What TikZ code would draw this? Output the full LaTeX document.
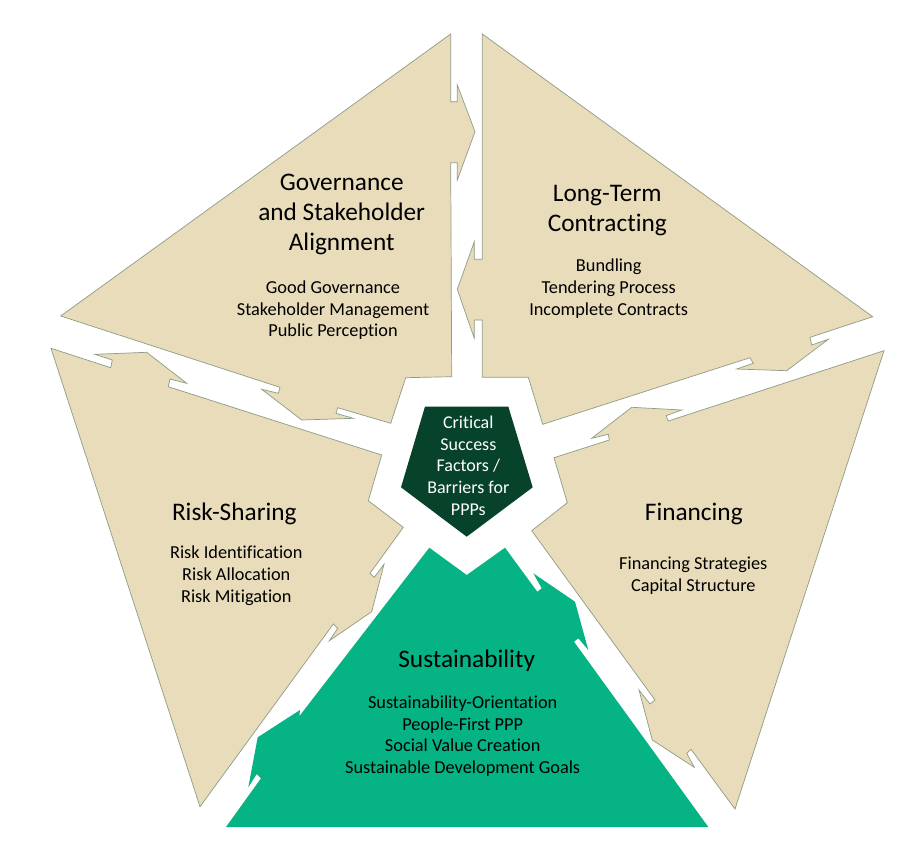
\documentclass[tikz,border=0pt]{standalone}
\usepackage{fontspec}
\setmainfont[Ligatures=NoCommon]{Carlito}
\definecolor{tanfill}{HTML}{E8DCBA}
\definecolor{tanline}{HTML}{8E9C86}
\definecolor{sgreen}{HTML}{05B384}
\definecolor{dgreen}{HTML}{07422A}
\tikzset{
  piece/.style={fill=tanfill, draw=tanline, line width=0.7pt, line join=miter},
  greenpiece/.style={fill=sgreen, draw=none},
  centerpiece/.style={fill=dgreen, draw=none},
  ttl/.style={anchor=base, inner sep=0pt, font=\fontsize{25.3}{30}\selectfont},
  itm/.style={anchor=base, inner sep=0pt, font=\fontsize{18.3}{22}\selectfont},
  ctr/.style={anchor=base, inner sep=0pt, text=white, font=\fontsize{18}{22}\selectfont}
}
\begin{document}
\begin{tikzpicture}[x=1pt,y=-1pt]
\useasboundingbox (0,0) rectangle (920,860);
\fill[white] (0,0) rectangle (920,860);

% Governance and Stakeholder Alignment
\draw[piece] (450.7,34) -- (450.7,101.7) -- (457.3,101.7) -- (457.3,85) -- (475,131.7)
  -- (457.3,180) -- (457.3,162.7) -- (450.7,162.7) -- (451.7,376.7) -- (405.7,377.7)
  -- (390.7,423.3) -- (337.7,407.7) -- (336,413.3) -- (353.3,418.3) -- (301.7,420)
  -- (261.7,389.3) -- (278.3,393.3) -- (280,387.3) -- (60.7,316) -- cycle;

% Long-Term Contracting
\draw[piece] (482.3,34) -- (872.7,316.7) -- (810,337.3) -- (811.7,345) -- (828.3,339.3)
  -- (786.7,370.7) -- (736.7,369) -- (753.3,363.3) -- (750,357.7) -- (542.7,424.3)
  -- (528.3,377.3) -- (482.3,377.3) -- (482.3,320) -- (474.3,320) -- (474.3,338.3)
  -- (457.3,289.3) -- (474.3,241.7) -- (474.3,259.3) -- (482.3,259.3) -- cycle;

% Financing
\draw[piece] (884,350.7) -- (735,809) -- (691,749.3) -- (686.7,753.3) -- (694.3,767.3)
  -- (652.3,740) -- (639,690) -- (650,704) -- (655,700) -- (531.7,530.7)
  -- (567.3,502.7) -- (554,457.7) -- (609.3,440) -- (608.3,434.3) -- (591.7,438.3)
  -- (631.7,407.3) -- (681.7,410) -- (666,415.7) -- (668.3,421) -- cycle;

% Risk-Sharing
\draw[piece] (51,348.3) -- (110.7,367.7) -- (112.3,360) -- (95,354.3) -- (146.7,352.3)
  -- (186.7,383.3) -- (170,379) -- (168.3,386.7) -- (381.7,455) -- (368.3,500.7)
  -- (403.3,527.3) -- (370,573.3) -- (374.3,577.3) -- (384,564.3) -- (371.7,611.7)
  -- (329.3,640.7) -- (337.7,628.3) -- (333.3,624) -- (200,806.7) -- cycle;

% Sustainability
\fill[greenpiece] (226,827) -- (261,778.3) -- (256.7,774) -- (248.3,787.3) -- (257.7,737.3)
  -- (300,710) -- (298.3,726.7) -- (293.3,724) -- (429.3,547.7) -- (466.7,575)
  -- (505,547.7) -- (537.3,591.7) -- (541.7,588.3) -- (533.3,573.3) -- (575,601.7)
  -- (588.3,650) -- (578.3,638.3) -- (574,641.7) -- (708.3,827) -- cycle;

% Center pentagon
\fill[centerpiece] (425,406.5) -- (508.3,406.5) -- (532.7,487.3) -- (466.7,536.7) -- (401,487.3) -- cycle;

% Texts: Governance
\node[ttl] (g1) at (341.7,190) {Governance};
\node[ttl] (g2) at (341.7,220) {and Stakeholder};
\node[ttl] (g3) at (341.7,250) {Alignment};
\node[itm] (g4) at (333,293.3) {Good Governance};
\node[itm] (g5) at (333,315) {Stakeholder Management};
\node[itm] (g6) at (333,336.7) {Public Perception};

% Long-Term
\node[ttl] (l1) at (607.3,201.7) {Long-Term};
\node[ttl] (l2) at (607.3,231.7) {Contracting};
\node[itm] (l3) at (608.7,271.7) {Bundling};
\node[itm] (l4) at (608.7,293.3) {Tendering Process};
\node[itm] (l5) at (608.7,315) {Incomplete Contracts};

% Risk-Sharing
\node[ttl] (r1) at (234.3,520.7) {Risk-Sharing};
\node[itm] (r2) at (236.3,558.3) {Risk Identification};
\node[itm] (r3) at (236.3,580.3) {Risk Allocation};
\node[itm] (r4) at (236.3,602) {Risk Mitigation};

% Financing
\node[ttl] (f1) at (693.8,520.7) {Financing};
\node[itm] (f2) at (693.3,569.3) {Financing Strategies};
\node[itm] (f3) at (693.3,591.3) {Capital Structure};

% Sustainability
\node[ttl] (s1) at (466.7,667.3) {Sustainability};
\node[itm] (s2) at (462.7,708.3) {Sustainability-Orientation};
\node[itm] (s3) at (462.7,730) {People-First PPP};
\node[itm] (s4) at (462.7,751.7) {Social Value Creation};
\node[itm] (s5) at (462.7,773.5) {Sustainable Development Goals};

% Center
\node[ctr] (c1) at (468.3,428) {Critical};
\node[ctr] (c2) at (468.3,450) {Success};
\node[ctr] (c3) at (468.3,471.7) {Factors /};
\node[ctr] (c4) at (468.3,493.3) {Barriers for};
\node[ctr] (c5) at (468.3,515) {PPPs};
\end{tikzpicture}
\end{document}
